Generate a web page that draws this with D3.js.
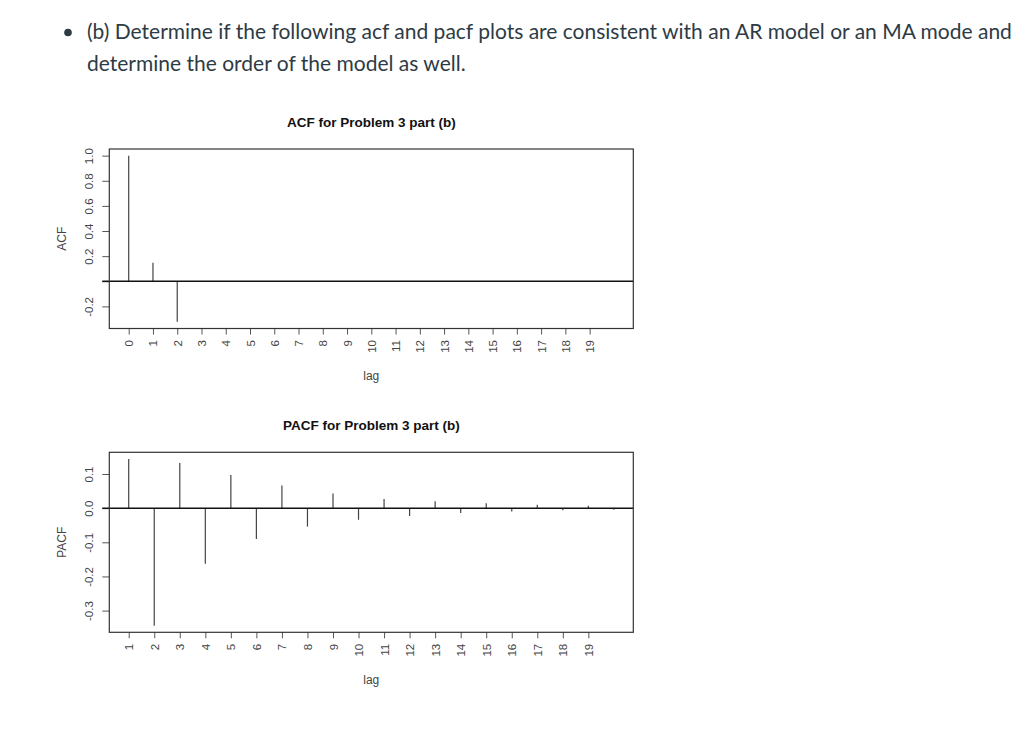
<!DOCTYPE html>
<html>
<head>
<meta charset="utf-8">
<script src="https://cdn.jsdelivr.net/npm/d3@7"></script>
<style>
  body { margin: 0; background: #fff; }
  svg { display: block; }
  .r-text { font-family: 'Liberation Sans', Arial, sans-serif; fill: #222; }
  .tick text { font-family: 'Liberation Sans', Arial, sans-serif; fill: #444; }
</style>
</head>
<body>
<div id="app"></div>
<script>
// header text
const HEADER_LINES = [
  '(b) Determine if the following acf and pacf plots are consistent with an AR model or an MA mode and',
  'determine the order of the model as well.'
];

// ACF panel data
const acfLags = [0, 1, 2, 3, 4, 5, 6, 7, 8, 9, 10, 11, 12, 13, 14, 15, 16, 17, 18, 19, 20];
const acfValues = [1.0, 0.147, -0.323, 0, 0, 0, 0, 0, 0, 0, 0, 0, 0, 0, 0, 0, 0, 0, 0, 0, 0];
const acfXTicks = [0, 1, 2, 3, 4, 5, 6, 7, 8, 9, 10, 11, 12, 13, 14, 15, 16, 17, 18, 19];
const acfYTicks = [-0.2, 0, 0.2, 0.4, 0.6, 0.8, 1.0];
const acfYLabels = ['-0.2', '', '0.2', '0.4', '0.6', '0.8', '1.0'];

// PACF panel data
const pacfLags = [1, 2, 3, 4, 5, 6, 7, 8, 9, 10, 11, 12, 13, 14, 15, 16, 17, 18, 19, 20];
const pacfValues = [0.144, -0.344, 0.132, -0.163, 0.097, -0.090, 0.066, -0.054, 0.043, -0.034,
  0.027, -0.023, 0.020, -0.014, 0.014, -0.010, 0.010, -0.006, 0.007, -0.005];
const pacfXTicks = [1, 2, 3, 4, 5, 6, 7, 8, 9, 10, 11, 12, 13, 14, 15, 16, 17, 18, 19];
const pacfYTicks = [-0.3, -0.2, -0.1, 0.0, 0.1];
const pacfYLabels = ['-0.3', '-0.2', '-0.1', '0.0', '0.1'];

// R style axis limits: data range padded by 4% each side
function rLimits(values) {
  const [lo, hi] = d3.extent(values);
  const pad = (hi - lo) * 0.04;
  return [lo - pad, hi + pad];
}

function buildHeader(svg) {
  const header = svg.append('g').attr('id', 'header');
  header.append('circle')
    .attr('cx', 68)
    .attr('cy', 32.5)
    .attr('r', 3.8)
    .style('fill', '#2d3b45');
  header.selectAll('text')
    .data(HEADER_LINES)
    .join('text')
    .attr('x', 87)
    .attr('y', (d, i) => 39 + i * 31.5)
    .style('font-family', 'Lato, sans-serif')
    .style('font-size', '21px')
    .style('fill', '#2d3b45')
    .text(d => d);
  return header;
}

function buildPlot(parent, cfg) {
  const {x, y, width, height} = cfg;
  const plot = parent.append('g')
    .attr('id', cfg.id)
    .attr('transform', `translate(${x}, ${y})`);

  const xScale = d3.scaleLinear()
    .domain(rLimits(cfg.lags))
    .range([0, width]);
  const yScale = d3.scaleLinear()
    .domain(rLimits(cfg.values))
    .range([height, 0]);

  // x axis, labels turned on their side (las = 2)
  plot.append('g')
    .attr('class', 'x-axis')
    .attr('transform', `translate(0, ${height})`)
    .call(d3.axisBottom(xScale).tickValues(cfg.xTicks).tickSize(6).tickFormat(d3.format('d')))
    .call(g => g.select('.domain').remove())
    .call(g => g.selectAll('.tick line').style('stroke', '#555'))
    .selectAll('text')
      .attr('transform', 'rotate(-90)')
      .attr('x', -11.5)
      .attr('y', 0)
      .attr('dy', '0.35em')
      .attr('text-anchor', 'end')
      .style('font-size', '11.5px');

  // y axis, labels parallel to the axis
  plot.append('g')
    .attr('class', 'y-axis')
    .call(d3.axisLeft(yScale).tickValues(cfg.yTicks).tickSize(7)
      .tickFormat((d, i) => cfg.yLabels[i]))
    .call(g => g.select('.domain').remove())
    .call(g => g.selectAll('.tick line').style('stroke', '#555'))
    .selectAll('text')
      .attr('transform', 'rotate(-90)')
      .attr('x', 0)
      .attr('y', -16.5)
      .attr('dy', 0)
      .attr('text-anchor', 'middle')
      .style('font-size', '11.5px');

  // spikes
  plot.append('g')
    .selectAll('line')
    .data(cfg.lags.map((lag, i) => ({lag, value: cfg.values[i]})))
    .join('line')
      .attr('x1', d => xScale(d.lag))
      .attr('x2', d => xScale(d.lag))
      .attr('y1', yScale(0))
      .attr('y2', d => yScale(d.value))
      .style('stroke', '#444')
      .style('stroke-width', 1.2);

  // zero line
  plot.append('line')
    .attr('x1', -7)
    .attr('x2', width)
    .attr('y1', yScale(0))
    .attr('y2', yScale(0))
    .style('stroke', '#111')
    .style('stroke-width', 1.5);

  // frame
  plot.append('rect')
    .attr('width', width)
    .attr('height', height)
    .style('fill', 'none')
    .style('stroke', '#333')
    .style('stroke-width', 1.2);

  // labels
  plot.append('text')
    .attr('class', 'r-text')
    .attr('x', width / 2)
    .attr('y', cfg.titleY)
    .attr('text-anchor', 'middle')
    .style('font-weight', 'bold')
    .style('font-size', '13.5px')
    .style('fill', '#111')
    .text(cfg.title);

  plot.append('text')
    .attr('class', 'r-text')
    .attr('x', width / 2)
    .attr('y', height + 51.5)
    .attr('text-anchor', 'middle')
    .style('font-size', '12px')
    .style('fill', '#444')
    .text('lag');

  plot.append('text')
    .attr('class', 'r-text')
    .attr('transform', `translate(-43, ${height / 2}) rotate(-90)`)
    .attr('text-anchor', 'middle')
    .style('font-size', '12px')
    .style('fill', '#444')
    .text(cfg.yTitle);

  return plot;
}

function buildVis() {
  const svg = d3.select('#app')
    .append('svg')
    .attr('width', 1024)
    .attr('height', 746);

  svg.append('rect')
    .attr('width', 1024)
    .attr('height', 746)
    .style('fill', '#fff');

  buildHeader(svg);

  const plotWidth = 524;

  buildPlot(svg, {
    id: 'acf', x: 109.3, y: 149, width: plotWidth, height: 179.5,
    lags: acfLags, values: acfValues, xTicks: acfXTicks,
    yTicks: acfYTicks, yLabels: acfYLabels,
    title: 'ACF for Problem 3 part (b)', titleY: -22, yTitle: 'ACF'
  });

  buildPlot(svg, {
    id: 'pacf', x: 109.3, y: 452.3, width: plotWidth, height: 180,
    lags: pacfLags, values: pacfValues, xTicks: pacfXTicks,
    yTicks: pacfYTicks, yLabels: pacfYLabels,
    title: 'PACF for Problem 3 part (b)', titleY: -22, yTitle: 'PACF'
  });
}

buildVis();
</script>
</body>
</html>
